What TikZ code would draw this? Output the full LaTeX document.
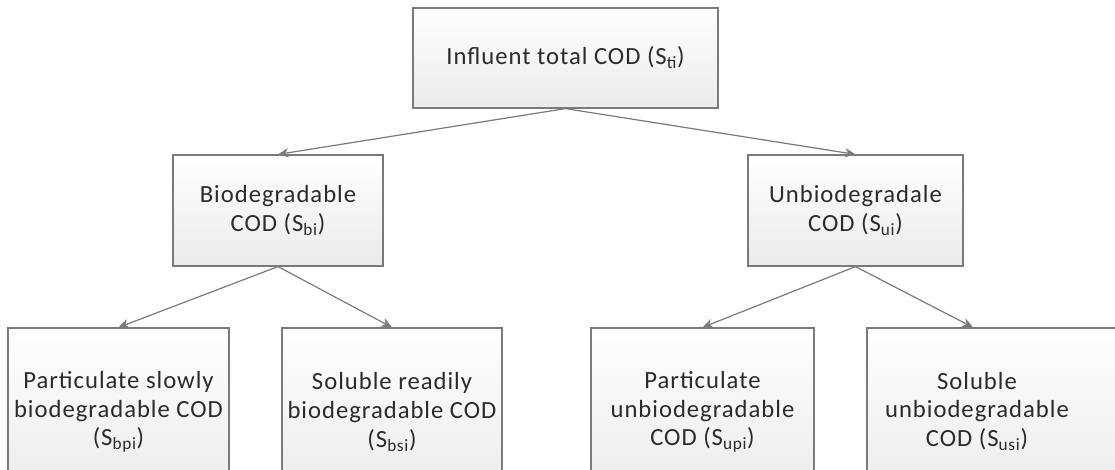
\documentclass[tikz,border=0pt]{standalone}
\usepackage{fontspec}
\setmainfont[LetterSpace=4]{Carlito}
\usetikzlibrary{arrows.meta}
\usepackage{xcolor}

\definecolor{boxline}{HTML}{7A7A7A}
\definecolor{boxtext}{HTML}{2B2B2B}

\begin{document}
\begin{tikzpicture}[x=0.75pt,y=-0.75pt,
        codbox/.style={draw=boxline, line width=0.9pt, top color=white, bottom color=black!8,
            text=boxtext, align=center, font=\fontsize{18.5}{21.5}\selectfont, inner sep=2pt},
        >={Stealth[length=8pt,width=7pt]}]
        \useasboundingbox (0,0) rectangle (1115,470); % picture frame
        \clip (0,0) rectangle (1115,470);

        % top level
        \node[codbox, minimum width=228.75pt, minimum height=75pt] (total) at (565.5,58)
            {Influent total COD (S\textsubscript{ti})};

        % second level
        \node[codbox, minimum width=157.5pt, minimum height=83.25pt] (bio) at (278,210.5)
            {Biodegradable\\COD (S\textsubscript{bi})};
        \node[codbox, minimum width=161.25pt, minimum height=83.25pt] (unbio) at (855.5,210.5)
            {Unbiodegradale\\COD (S\textsubscript{ui})};

        % third level (cut off at the bottom)
        \node[codbox, minimum width=165.75pt, minimum height=126pt] (bpi) at (118.5,412)
            {Particulate slowly\\biodegradable COD\\(S\textsubscript{bpi})};
        \node[codbox, minimum width=165pt, minimum height=126pt] (bsi) at (392,412)
            {Soluble readily\\biodegradable COD\\(S\textsubscript{bsi})};
        \node[codbox, minimum width=167.25pt, minimum height=126pt] (upi) at (702.5,412)
            {Particulate\\unbiodegradable\\COD (S\textsubscript{upi})};
        \node[codbox, minimum width=195pt, minimum height=126pt] (usi) at (997,412)
            {\begin{tabular}{@{}c@{\hspace{30pt}}}Soluble\\unbiodegradable\\COD (S\textsubscript{usi})\end{tabular}};

        \draw[->, boxline, line width=0.9pt] (total.south) -- (bio.north); % to biodegradable
        \draw[->, boxline, line width=0.9pt] (total.south) -- (unbio.north); % to unbiodegradable
        \draw[->, boxline, line width=0.9pt] (bio.south) -- (bpi.north);
        \draw[->, boxline, line width=0.9pt] (bio.south) -- (bsi.north);
        \draw[->, boxline, line width=0.9pt] (unbio.south) -- (upi.north);
        \draw[->, boxline, line width=0.9pt] (unbio.south) -- ([xshift=-18pt]usi.north);
    \end{tikzpicture}
\end{document}
